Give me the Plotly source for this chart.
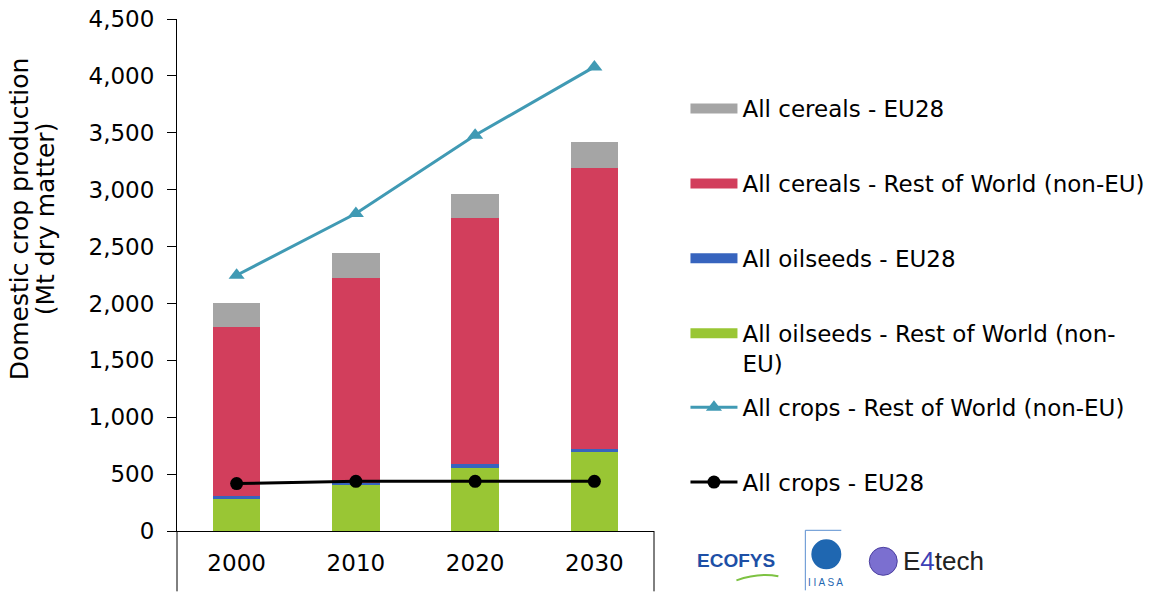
import plotly.graph_objects as go

years = ["2000", "2010", "2020", "2030"]
oilseeds_row = [285, 400, 555, 695]
oilseeds_eu = [20, 25, 30, 25]
cereals_row = [1485, 1802, 2166, 2474]
cereals_eu = [215, 217, 215, 225]
allcrops_row = [2248, 2790, 3478, 4079]
allcrops_eu = [417, 437, 437, 437]

C_GREEN = "#99C634"
C_BLUE = "#3764BE"
C_RED = "#D23E5C"
C_GREY = "#A5A5A5"
C_TEAL = "#409AB4"

FONT = "DejaVu Sans"
FS = 23

W, H = 1149, 592
L, R = 177, 654.5
T, B = 19, 530.7

fig = go.Figure()

bars = [
    ("All oilseeds - Rest of World (non-<br>EU)", oilseeds_row, C_GREEN),
    ("All oilseeds - EU28", oilseeds_eu, C_BLUE),
    ("All cereals - Rest of World (non-EU)", cereals_row, C_RED),
    ("All cereals - EU28", cereals_eu, C_GREY),
]
for name, vals, col in bars:
    fig.add_trace(go.Bar(x=years, y=vals, name=name, marker=dict(color=col, line=dict(width=0)),
                         showlegend=False))

# legend entries for bars (wide rectangles), top of stack first
for i, (name, vals, col) in enumerate(reversed(bars)):
    fig.add_trace(go.Scatter(x=[None], y=[None], mode="lines", name=name,
                             line=dict(color=col, width=11), legend="legend",
                             legendgroup="b%d" % i, hoverinfo="skip"))

fig.add_trace(go.Scatter(x=years, y=allcrops_row, mode="lines+markers",
                         name="All crops - Rest of World (non-EU)",
                         line=dict(color=C_TEAL, width=3),
                         marker=dict(symbol="triangle-up", size=14, color=C_TEAL),
                         legend="legend2", legendgroup="l1"))
fig.add_trace(go.Scatter(x=years, y=allcrops_eu, mode="lines+markers",
                         name="All crops - EU28",
                         line=dict(color="#000000", width=3),
                         marker=dict(symbol="circle", size=13, color="#000000"),
                         legend="legend2", legendgroup="l2"))

def py(pix):
    return (B - pix) / (B - T)

def px(pix):
    return (pix - L) / (R - L)

legend_common = dict(font=dict(family=FONT, size=FS, color="#000"), bgcolor="rgba(0,0,0,0)",
                     itemwidth=47, tracegroupgap=42, xanchor="left", yanchor="top",
                     valign="top", itemclick=False, itemdoubleclick=False)

fig.update_layout(
    width=W, height=H,
    margin=dict(l=L, r=W - R, t=T, b=H - B, pad=0, autoexpand=False),
    paper_bgcolor="white", plot_bgcolor="white",
    barmode="stack", bargap=0.6,
    font=dict(family=FONT, size=FS, color="#000"),
    legend=dict(x=px(686), y=py(87), traceorder="grouped", **legend_common),
    legend2=dict(x=px(686), y=py(385.5), traceorder="grouped", **legend_common),
    xaxis=dict(showline=True, linecolor="#000", linewidth=1, ticks="", showgrid=False,
               tickfont=dict(family=FONT, size=FS, color="#000"), ticklabelstandoff=11,
               automargin=False),
    yaxis=dict(range=[0, 4500], dtick=500, tickformat=",", showline=True, linecolor="#000",
               linewidth=1, ticks="outside", ticklen=9, tickcolor="#000", showgrid=False,
               zeroline=False, tickfont=dict(family=FONT, size=FS, color="#000"),
               ticklabelstandoff=8, automargin=False),
    showlegend=True,
)

# extended frame lines below category axis
for xx in (0, 1):
    fig.add_shape(type="line", xref="paper", yref="paper", x0=xx, x1=xx, y0=0, y1=py(591),
                  line=dict(color="#000", width=1))

# axis title (two lines)
fig.add_annotation(xref="paper", yref="paper", x=px(19), y=py(219),
                   text="Domestic crop production", textangle=-90,
                   showarrow=False, font=dict(family=FONT, size=25, color="#000"),
                   xanchor="center", yanchor="middle")
fig.add_annotation(xref="paper", yref="paper", x=px(45), y=py(219),
                   text="(Mt dry matter)", textangle=-90,
                   showarrow=False, font=dict(family=FONT, size=25, color="#000"),
                   xanchor="center", yanchor="middle")

# logos (approximations)
fig.add_annotation(xref="paper", yref="paper", x=px(737), y=py(560), text="<b>ECOFYS</b>",
                   showarrow=False, font=dict(family="Liberation Sans", size=19, color="#1D4FA6"),
                   xanchor="center", yanchor="middle")
fig.add_shape(type="path", xref="paper", yref="paper",
              path="M %f,%f Q %f,%f %f,%f" % (px(737), py(580), px(760), py(572), px(779), py(576)),
              line=dict(color="#7DC242", width=2))
fig.add_shape(type="line", xref="paper", yref="paper", x0=px(806), x1=px(806), y0=py(530), y1=py(590),
              line=dict(color="#5B8FD0", width=1))
fig.add_shape(type="line", xref="paper", yref="paper", x0=px(806), x1=px(842), y0=py(530), y1=py(530),
              line=dict(color="#5B8FD0", width=1))
fig.add_shape(type="circle", xref="paper", yref="paper", x0=px(812), x1=px(842), y0=py(539), y1=py(569),
              fillcolor="#1F67B1", line=dict(width=0))
fig.add_annotation(xref="paper", yref="paper", x=px(826), y=py(582), text="I I A S A",
                   showarrow=False, font=dict(family="Liberation Sans", size=10, color="#1F67B1"),
                   xanchor="center", yanchor="middle")
fig.add_shape(type="circle", xref="paper", yref="paper", x0=px(870), x1=px(898), y0=py(547), y1=py(575),
              fillcolor="#7B6FD0", line=dict(color="#4B3FA0", width=1))
fig.add_annotation(xref="paper", yref="paper", x=px(902), y=py(561),
                   text="E<span style='color:#3B3FB5'>4</span>tech",
                   showarrow=False, font=dict(family="Liberation Sans", size=26, color="#222"),
                   xanchor="left", yanchor="middle")

fig.write_html("out.html", config={"displayModeBar": False},
               post_script="document.body.style.margin='0';document.body.style.overflow='hidden';")
